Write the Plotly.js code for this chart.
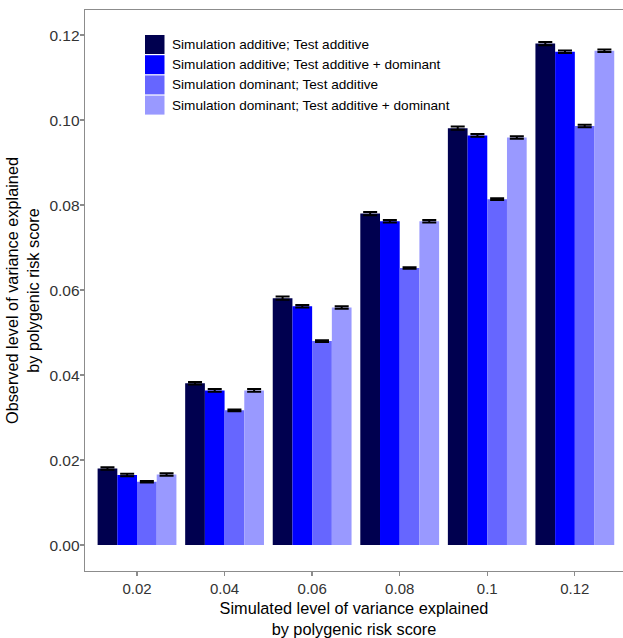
<!DOCTYPE html>
<html><head><meta charset="utf-8">
<script src="https://cdn.plot.ly/plotly-3.0.1.min.js"></script>
<style>html,body{margin:0;padding:0;background:#fff}</style>
</head><body>
<div id="chart" style="width:623px;height:638px"></div>
<script>
var categories = ["0.02", "0.04", "0.06", "0.08", "0.1", "0.12"];
var seriesNames = [
  "Simulation additive; Test additive",
  "Simulation additive; Test additive + dominant",
  "Simulation dominant; Test additive",
  "Simulation dominant; Test additive + dominant"
];
var simAddTestAdd       = [0.0180, 0.0381, 0.0581, 0.0780, 0.0981, 0.1180];
var simAddTestAddDom    = [0.0165, 0.0364, 0.0562, 0.0762, 0.0964, 0.1161];
var simDomTestAdd       = [0.0149, 0.0317, 0.0480, 0.0652, 0.0814, 0.0986];
var simDomTestAddDom    = [0.0166, 0.0364, 0.0559, 0.0762, 0.0959, 0.1163];
var errAddAdd    = [0.0003, 0.0003, 0.0004, 0.0004, 0.0004, 0.0004];
var errAddAddDom = [0.0003, 0.0003, 0.0003, 0.0003, 0.0003, 0.0003];
var errDomAdd    = [0.0002, 0.0002, 0.0002, 0.0002, 0.0002, 0.0003];
var errDomAddDom = [0.0003, 0.0003, 0.0003, 0.0003, 0.0003, 0.0003];
var colors = ["#00004F", "#0000FF", "#6666FF", "#9999FF"];

var values = [simAddTestAdd, simAddTestAddDom, simDomTestAdd, simDomTestAddDom];
var errs = [errAddAdd, errAddAddDom, errDomAdd, errDomAddDom];

var traces = values.map(function(v, i) {
  return {
    type: "bar",
    name: seriesNames[i],
    x: categories,
    y: v,
    marker: {color: colors[i], line: {width: 0}},
    error_y: {type: "data", array: errs[i], visible: true, color: "#000000", thickness: 2, width: 7},
    showlegend: false
  };
});

// legend drawn as swatches + labels
var shapes = [], annotations = [];
var legTop = 35, rowH = 20.2, figH = 638, mT = 10, mB = 67, plotH = figH - mT - mB;
var mL = 85, plotW = 623 - mL;
function px2paperX(px) { return (px - mL) / plotW; }
function px2paperY(py) { return (figH - mB - py) / plotH; }
seriesNames.forEach(function(n, i) {
  var y0 = legTop + i * rowH;
  shapes.push({type: "rect", xref: "paper", yref: "paper",
    x0: px2paperX(145), x1: px2paperX(164.5),
    y0: px2paperY(y0 + 19), y1: px2paperY(y0),
    fillcolor: colors[i], line: {width: 0}});
  annotations.push({xref: "paper", yref: "paper", x: px2paperX(170), y: px2paperY(y0 + 9.5),
    xanchor: "left", yanchor: "middle", showarrow: false, text: n,
    font: {family: "Liberation Sans, Arial, sans-serif", size: 13.6, color: "#000000"}});
});

var layout = {
  width: 623, height: 638,
  margin: {l: mL, r: 0, t: mT, b: mB, pad: 0},
  paper_bgcolor: "#ffffff", plot_bgcolor: "#ffffff",
  barmode: "group", bargap: 0.1, bargroupgap: 0,
  font: {family: "Liberation Sans, Arial, sans-serif"},
  xaxis: {
    type: "category", range: [-0.594, 5.55],
    showgrid: false, zeroline: false,
    showline: true, linecolor: "#8c8c8c", linewidth: 1.3, mirror: true,
    ticks: "outside", ticklen: 4, tickcolor: "#8c8c8c", tickwidth: 1.3,
    tickfont: {size: 15, color: "#333333"},
    title: {text: "Simulated level of variance explained<br>by polygenic risk score",
      font: {size: 16.3, color: "#000000"}, standoff: 14}
  },
  yaxis: {
    range: [-0.0061, 0.1259],
    tickvals: [0, 0.02, 0.04, 0.06, 0.08, 0.10, 0.12],
    tickformat: ".2f",
    showgrid: false, zeroline: false,
    showline: true, linecolor: "#8c8c8c", linewidth: 1.3, mirror: false,
    ticks: "outside", ticklen: 4, tickcolor: "#8c8c8c", tickwidth: 1.3,
    ticklabelstandoff: -3,
    tickfont: {size: 15.5, color: "#333333"},
    title: {text: "Observed level of variance explained<br>by polygenic risk score",
      font: {size: 16.3, color: "#000000"}, standoff: 5}
  },
  shapes: shapes,
  annotations: annotations
};

Plotly.newPlot("chart", traces, layout, {displayModeBar: false, staticPlot: true});
</script>
</body></html>
